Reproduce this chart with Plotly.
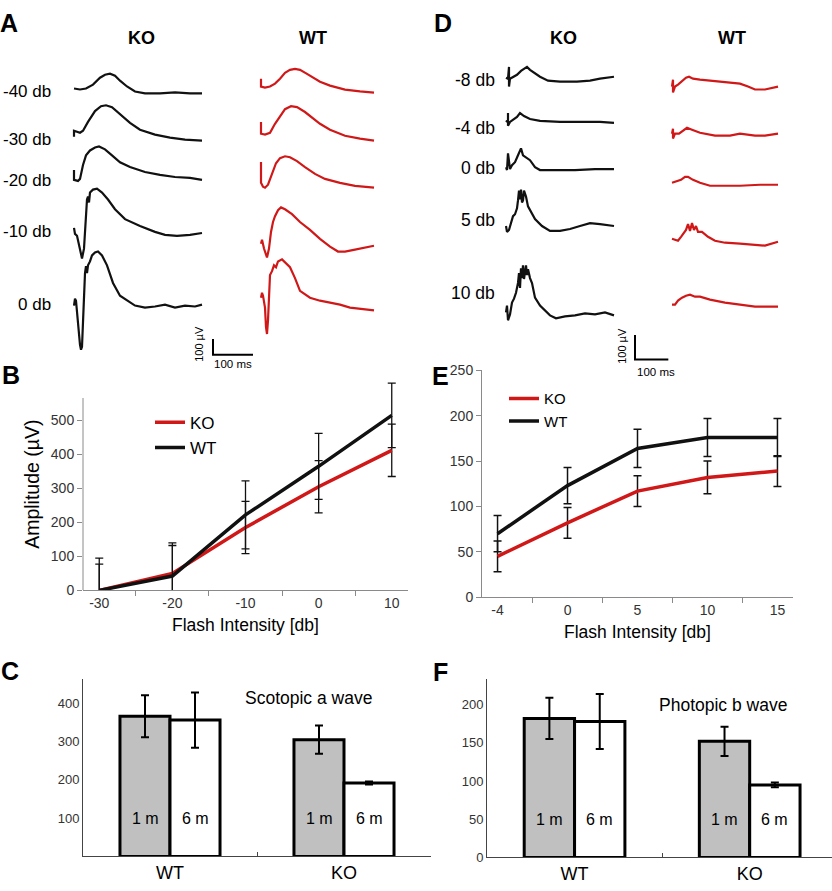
import plotly.graph_objects as go

# ---------------- data ----------------
# A: scotopic ERG traces (time in ms from flash, amplitude in uV from baseline)
A_ROWS = ['-40 db', '-30 db', '-20 db', '-10 db', '0 db']
A_KO_MS = [
    [0, 15, 30, 47.5, 65, 77.5, 90, 102.5, 115, 132.5, 152.5, 177.5, 215, 252.5, 290, 320],
    [0, 0, 15, 22.5, 35, 52.5, 67.5, 80, 95, 115, 140, 165, 202.5, 240, 277.5, 320],
    [0, 0, 10, 15, 22.5, 30, 40, 52.5, 62.5, 77.5, 95, 115, 140, 177.5, 215, 252.5, 290, 320],
    [0, 2.5, 7.5, 12.5, 17.5, 20, 25, 27.5, 30, 32.5, 35, 37.5, 40, 47.5, 57.5, 70, 85, 102.5,
     127.5, 165, 202.5, 227.5, 257.5, 290, 320],
    [0, 2.5, 5, 7.5, 12.5, 15, 17.5, 20, 22.5, 25, 27.5, 30, 32.5, 35, 40, 45, 52.5, 60, 70, 82.5,
     97.5, 115, 132.5, 152.5, 177.5, 202.5, 227.5, 252.5, 277.5, 302.5, 320],
]
A_KO_UV = [
    [0, -6, 0, 25, 69, 88, 94, 81, 50, 13, -19, -31, -31, -25, -31, -31],
    [-19, 19, 6, 19, 75, 144, 175, 181, 169, 125, 69, 25, -6, -25, -38, -44],
    [31, -31, -38, -25, 63, 125, 156, 175, 181, 163, 125, 81, 50, 19, 0, -13, -19, -31],
    [19, -19, -31, -81, -144, -175, -113, -19, 138, 200, 219, 181, 244, 263, 269, 244, 200, 138,
     75, 31, -6, -25, -31, -25, -13],
    [0, 44, 31, -44, -169, -250, -281, -263, -106, 81, 206, 250, 206, 256, 281, 319, 338, 344, 319,
     256, 144, 63, 31, 0, -13, -6, 6, -13, 0, -6, 6],
]
A_WT_MS = [
    [0, 0, 10, 22.5, 35, 47.5, 60, 72.5, 85, 97.5, 115, 135, 147.5, 172.5, 210, 247.5, 282.5],
    [0, 0, 10, 22.5, 35, 47.5, 60, 75, 90, 110, 135, 147.5, 172.5, 210, 247.5, 282.5],
    [0, 0, 5, 10, 17.5, 27.5, 37.5, 47.5, 60, 72.5, 90, 110, 135, 160, 197.5, 235, 282.5],
    [0, 2.5, 7.5, 12.5, 15, 20, 25, 30, 35, 42.5, 50, 60, 77.5, 97.5, 122.5, 147.5, 172.5, 192.5,
     210, 235, 260, 282.5],
    [0, 2.5, 5, 10, 12.5, 15, 17.5, 20, 22.5, 27.5, 32.5, 37.5, 42.5, 52.5, 62.5, 72.5, 85, 97.5,
     122.5, 147.5, 172.5, 197.5, 222.5, 247.5, 282.5],
]
A_WT_UV = [
    [50, 0, -6, 0, 19, 50, 88, 106, 113, 106, 81, 50, 31, 6, -19, -31, -38],
    [75, 0, -6, 6, 63, 113, 156, 175, 169, 138, 88, 63, 25, -13, -31, -44],
    [113, -19, -44, -50, -31, 44, 106, 138, 150, 144, 119, 81, 38, 6, -19, -38, -50],
    [0, 25, -31, -75, -88, -31, 75, 138, 175, 213, 231, 219, 188, 138, 88, 31, -19, -50, -50, -38,
     -25, -13],
    [0, 31, 13, -63, -188, -231, -144, 31, 144, 169, 206, 194, 231, 244, 219, 194, 125, 44, 0, -19,
     -31, -44, -63, -69, -81],
]

# D: photopic ERG traces
D_ROWS = ['-8 db', '-4 db', '0 db', '5 db', '10 db']
D_KO_MS = [
    [0, 6, 9, 9, 12, 21, 33, 45, 54, 63, 72, 84, 102, 126, 162, 213, 252, 282, 324],
    [0, 6, 6, 6, 12, 24, 33, 42, 54, 72, 102, 162, 222, 282, 324],
    [0, 3, 6, 9, 12, 18, 27, 36, 42, 45, 51, 60, 72, 87, 102, 147, 207, 267, 324],
    [0, 3, 9, 15, 21, 27, 33, 36, 39, 42, 45, 48, 51, 54, 60, 66, 75, 87, 108, 132, 162, 192, 222,
     252, 282, 324],
    [0, 3, 6, 12, 18, 24, 30, 36, 39, 42, 45, 48, 51, 54, 60, 63, 66, 72, 78, 87, 102, 117, 132,
     150, 177, 207, 237, 267, 297, 324],
]
D_KO_UV = [
    [0, -4, 44, -36, -4, 4, 12, 28, 36, 44, 32, 20, 4, -12, -16, -16, -12, -4, 4],
    [0, 8, 36, -16, 0, 12, 20, 36, 24, 12, 4, 0, 0, 0, -4],
    [0, -12, 56, 8, -8, 8, 20, 48, 68, 76, 48, 40, 28, 0, -12, -12, -12, -8, -8],
    [0, -24, -16, 16, 40, 48, 72, 104, 144, 108, 148, 96, 104, 144, 120, 80, 56, 28, 0, -20, -20,
     -12, 0, 12, 8, 0],
    [0, 28, -32, -8, 40, 56, 80, 120, 160, 100, 180, 140, 192, 136, 192, 152, 176, 140, 120, 60,
     28, 8, -12, -24, -16, -12, -4, -8, 0, -12],
]
D_WT_MS = [
    [0, 3, 3, 9, 18, 30, 42, 51, 63, 84, 114, 144, 174, 204, 228, 249, 279, 318],
    [0, 3, 3, 9, 21, 33, 45, 60, 84, 129, 174, 204, 249, 279, 318],
    [0, 12, 27, 39, 48, 63, 84, 114, 159, 204, 264, 318],
    [0, 9, 18, 27, 36, 42, 48, 54, 60, 66, 72, 78, 90, 108, 129, 159, 204, 249, 279, 318],
    [0, 9, 18, 30, 42, 54, 69, 84, 114, 159, 204, 249, 279, 318],
]
D_WT_UV = [
    [0, 28, -24, 0, 8, 24, 36, 40, 32, 28, 24, 20, 16, 12, 0, -12, -12, 0],
    [0, 20, -20, 0, 0, 12, 24, 16, 4, -8, -8, 0, -8, -8, 0],
    [0, 4, 12, 24, 24, 12, 0, -12, -12, -12, -8, -8],
    [0, -4, -8, 8, 24, 36, 60, 32, 64, 36, 52, 28, 28, 8, -8, -16, -20, -24, -28, -12],
    [0, 0, 16, 28, 36, 40, 32, 32, 20, 8, 0, -8, -8, -8],
]
SCALE_MS = 100
SCALE_UV = 100

# B: scotopic amplitude vs intensity
B_X = ['-30', '-20', '-10', '0', '10']
B_KO = [0, 50, 185, 305, 412]
B_KO_ERR = [77, 90, 77, 77, 77]
B_WT = [0, 42, 222, 365, 515]
B_WT_ERR = [95, 90, 100, 97, 95]

# E: photopic amplitude vs intensity
E_X = ['-4', '0', '5', '10', '15']
E_KO = [45, 82, 117, 132, 139]
E_KO_ERR = [17, 17, 17, 18, 17]
E_WT = [70, 123, 164, 176, 176]
E_WT_ERR = [20, 20, 21, 21, 21]

# C / F: age comparison
GROUPS = ['WT', 'KO']
C_1M = [366, 305]
C_1M_ERR = [55, 37]
C_6M = [356, 192]
C_6M_ERR = [72, 4]
F_1M = [182, 152]
F_1M_ERR = [27, 19]
F_6M = [178, 95]
F_6M_ERR = [36, 3]

# ---------------- layout helpers ----------------
W, H = 832, 891
FONT = 'Arial, Liberation Sans, sans-serif'
RED = '#d01818'
GRAY_AX = '#8a8a8a'


def px(x):
    return x / W


def py(y):
    return 1 - y / H


fig = go.Figure()

# trace panels: axis units are ms / uV, laid out from pixel positions
A_MS_PX, A_UV_PX, A_BOTTOM = 2.5, 6.25, 360
D_MS_PX, D_UV_PX, D_LEFT, D_BOTTOM = 3.0, 4.0, 420, 380


def add_traces(times, volts, rows_px, start_px, color, xa, ya, ms_px, uv_px, left, bottom):
    x0 = (start_px - left) * ms_px
    for t, v, r in zip(times, volts, rows_px):
        y0 = (bottom - r) * uv_px
        fig.add_trace(go.Scatter(
            x=[x0 + ti for ti in t], y=[y0 + vi for vi in v], mode='lines',
            line=dict(color=color, width=2.2), xaxis=xa, yaxis=ya,
            showlegend=False, hoverinfo='skip'))


add_traces(A_KO_MS, A_KO_UV, [82, 128, 170, 227, 303], 74, '#111111', 'x', 'y',
           A_MS_PX, A_UV_PX, 0, A_BOTTOM)
add_traces(A_WT_MS, A_WT_UV, [80, 128, 175, 240, 295], 261, RED, 'x', 'y',
           A_MS_PX, A_UV_PX, 0, A_BOTTOM)
add_traces(D_KO_MS, D_KO_UV, [71, 116, 162, 222, 310], 506, '#111111', 'x4', 'y4',
           D_MS_PX, D_UV_PX, D_LEFT, D_BOTTOM)
add_traces(D_WT_MS, D_WT_UV, [80, 128, 178, 235, 302], 672, RED, 'x4', 'y4',
           D_MS_PX, D_UV_PX, D_LEFT, D_BOTTOM)

# scale bars
sa_x, sa_y = 213 * A_MS_PX, (A_BOTTOM - 353) * A_UV_PX
fig.add_trace(go.Scatter(x=[sa_x, sa_x, sa_x + SCALE_MS], y=[sa_y + SCALE_UV, sa_y, sa_y],
                         mode='lines', line=dict(color='black', width=2), xaxis='x', yaxis='y',
                         showlegend=False, hoverinfo='skip'))
sd_x, sd_y = (635 - D_LEFT) * D_MS_PX, (D_BOTTOM - 358) * D_UV_PX
fig.add_trace(go.Scatter(x=[sd_x, sd_x, sd_x + SCALE_MS], y=[sd_y + SCALE_UV, sd_y, sd_y],
                         mode='lines', line=dict(color='black', width=2), xaxis='x4', yaxis='y4',
                         showlegend=False, hoverinfo='skip'))

# B lines
for name, ys, err, col in [('KO', B_KO, B_KO_ERR, RED), ('WT', B_WT, B_WT_ERR, '#111111')]:
    fig.add_trace(go.Scatter(x=B_X, y=ys, name=name, mode='lines',
                             line=dict(color=col, width=3.5),
                             error_y=dict(type='data', array=err, color='#111111',
                                          thickness=1.3, width=4),
                             xaxis='x2', yaxis='y2', legend='legend'))
# E lines
for name, ys, err, col in [('KO', E_KO, E_KO_ERR, RED), ('WT', E_WT, E_WT_ERR, '#111111')]:
    fig.add_trace(go.Scatter(x=E_X, y=ys, name=name, mode='lines',
                             line=dict(color=col, width=3.5),
                             error_y=dict(type='data', array=err, color='#111111',
                                          thickness=1.5, width=4),
                             xaxis='x5', yaxis='y5', legend='legend2'))

# C / F bars
for xa, ya, v1, e1, v6, e6 in [('x3', 'y3', C_1M, C_1M_ERR, C_6M, C_6M_ERR),
                               ('x6', 'y6', F_1M, F_1M_ERR, F_6M, F_6M_ERR)]:
    fig.add_trace(go.Bar(x=GROUPS, y=v1, name='1 m', marker=dict(color='#c0c0c0',
                         line=dict(color='black', width=3)),
                         error_y=dict(type='data', array=e1, color='black', thickness=2, width=4),
                         xaxis=xa, yaxis=ya, showlegend=False))
    fig.add_trace(go.Bar(x=GROUPS, y=v6, name='6 m', marker=dict(color='white',
                         line=dict(color='black', width=3)),
                         error_y=dict(type='data', array=e6, color='black', thickness=2, width=4),
                         xaxis=xa, yaxis=ya, showlegend=False))

hidden = dict(visible=False, fixedrange=True)
tickfont = dict(family=FONT, size=14, color='#333333')

fig.update_layout(
    width=W, height=H, margin=dict(l=0, r=0, t=0, b=0),
    paper_bgcolor='white', plot_bgcolor='rgba(0,0,0,0)',
    font=dict(family=FONT, color='black'),
    barmode='group', bargap=0.425, bargroupgap=0,
    xaxis=dict(domain=[0, px(420)], range=[0, 420 * A_MS_PX], anchor='y', **hidden),
    yaxis=dict(domain=[py(360), 1], range=[0, 360 * A_UV_PX], anchor='x', **hidden),
    xaxis4=dict(domain=[px(420), 1], range=[0, (W - D_LEFT) * D_MS_PX], anchor='y4', **hidden),
    yaxis4=dict(domain=[py(380), 1], range=[0, 380 * D_UV_PX], anchor='x4', **hidden),
    xaxis2=dict(domain=[px(83), px(408)], anchor='y2', type='category', showline=True,
                linecolor=GRAY_AX, ticks='outside', tickson='boundaries', ticklen=5,
                tickcolor=GRAY_AX, showgrid=False, tickfont=tickfont,
                title=dict(text='Flash Intensity [db]', font=dict(size=17.5), standoff=8)),
    yaxis2=dict(domain=[py(593), py(593 - 625 * 0.346)], range=[0, 625], anchor='x2',
                showline=False, ticks='outside', ticklen=5, tickcolor=GRAY_AX,
                tickvals=[0, 100, 200, 300, 400, 500], showgrid=False, zeroline=False,
                tickfont=tickfont,
                title=dict(text='Amplitude (µV)', font=dict(size=19.5), standoff=6)),
    xaxis5=dict(domain=[px(482), px(793)], anchor='y5', type='category', showline=True,
                linecolor=GRAY_AX, ticks='outside', tickson='boundaries', ticklen=5,
                tickcolor=GRAY_AX, showgrid=False, tickfont=tickfont,
                title=dict(text='Flash Intensity [db]', font=dict(size=17.5), standoff=8)),
    yaxis5=dict(domain=[py(600), py(369)], range=[0, 250], anchor='x5', showline=True,
                linecolor=GRAY_AX, ticks='outside', ticklen=5, tickcolor=GRAY_AX,
                dtick=50, showgrid=False, zeroline=False, tickfont=tickfont),
    xaxis3=dict(domain=[px(83), px(431)], anchor='y3', type='category', showline=True,
                linecolor='#444444', ticks='inside', tickson='boundaries', ticklen=4,
                tickcolor='#444444', showgrid=False,
                tickfont=dict(family=FONT, size=18, color='black')),
    yaxis3=dict(domain=[py(864), py(683)], range=[0, 464], anchor='x3', showline=True,
                linecolor='#444444', ticks='', tickvals=[100, 200, 300, 400],
                showgrid=False, zeroline=False,
                tickfont=dict(family=FONT, size=13, color='#333333')),
    xaxis6=dict(domain=[px(487), 1], range=[-0.5, 1.47], anchor='y6', type='category',
                showline=True, linecolor='#444444', ticks='inside', tickson='boundaries',
                ticklen=4, tickcolor='#444444', showgrid=False,
                tickfont=dict(family=FONT, size=18, color='black')),
    yaxis6=dict(domain=[py(865), py(683)], range=[0, 234], anchor='x6', showline=True,
                linecolor='#444444', ticks='', tickvals=[0, 50, 100, 150, 200],
                showgrid=False, zeroline=False,
                tickfont=dict(family=FONT, size=13, color='#333333')),
    legend=dict(x=px(150), y=py(404), xanchor='left', yanchor='top',
                bgcolor='rgba(0,0,0,0)', font=dict(size=17), itemwidth=30),
    legend2=dict(x=px(504), y=py(381), xanchor='left', yanchor='top',
                 bgcolor='rgba(0,0,0,0)', font=dict(size=15), itemwidth=30),
)

# B y-axis line stops short of the tallest error bar
fig.add_shape(type='line', xref='x2 domain', yref='y2', x0=0, x1=0, y0=0, y1=566,
              line=dict(color=GRAY_AX, width=1))

ann = []


def label(text, x, y, size, bold=False, xanchor='center', angle=0, color='black'):
    ann.append(dict(text='<b>%s</b>' % text if bold else text, x=px(x), y=py(y),
                    xref='paper', yref='paper', showarrow=False, xanchor=xanchor,
                    yanchor='middle', textangle=angle,
                    font=dict(family=FONT, size=size, color=color)))


# panel letters
for letter, x, y in [('A', 9, 15), ('B', 11, 374), ('C', 10, 675),
                     ('D', 443, 15), ('E', 441, 375), ('F', 440, 676)]:
    label(letter, x, y, 25, bold=True)
# column headers
for text, x in [('KO', 141), ('WT', 313), ('KO', 563), ('WT', 732)]:
    label(text, x, 31, 18, bold=True)
# row labels
for text, y in zip(A_ROWS, [85, 134, 176, 228, 302]):
    label(text, 53, y, 17, xanchor='right')
for text, y in zip(D_ROWS, [73, 122, 163, 216, 290]):
    label(text, 497, y, 17.5, xanchor='right')
# scale bar labels
label('100 µV', 199, 342, 11, angle=-90)
label('100 ms', 233, 363, 11.5)
label('100 µV', 622, 344, 11, angle=-90)
label('100 ms', 656, 371, 11.5)
# bar panel titles
label('Scotopic a wave', 308, 703, 17.5)
label('Photopic b wave', 723, 710, 17.5)
fig.update_layout(annotations=ann)

# bar labels
for xa in ['x3', 'x6']:
    yy = 836 if xa == 'x3' else 837
    for g in GROUPS:
        for txt, shift in [('1 m', -25), ('6 m', 25)]:
            fig.add_annotation(text=txt, x=g, xref=xa, xshift=shift, y=py(yy), yref='paper',
                               showarrow=False, font=dict(family=FONT, size=16, color='black'))

# drop the default page margin so the figure sits at the window origin
fig.write_html('out.html', config={'displayModeBar': False},
               post_script="document.body.style.margin='0';")
